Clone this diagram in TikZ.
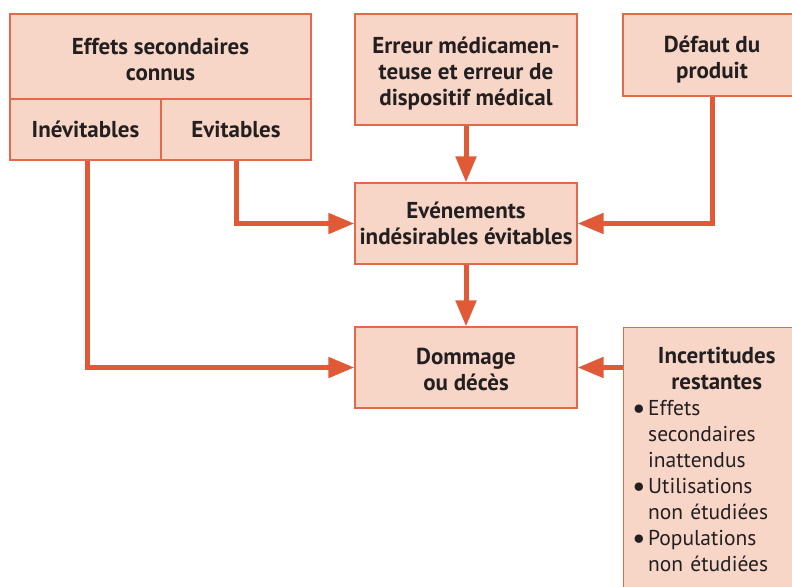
\documentclass[tikz,border=0pt]{standalone}
\usepackage{fontspec}
\setmainfont{PT Sans}
\usetikzlibrary{arrows.meta}
\definecolor{boxfill}{HTML}{F8D6C7}
\definecolor{boxline}{HTML}{E4694A}
\definecolor{flow}{HTML}{E05A38}
\definecolor{ink}{HTML}{231F20}
\newcommand{\itembullet}{\makebox[16pt][l]{\raisebox{-3pt}{\fontsize{30}{26}\selectfont•}}}
\newcommand{\itemcont}{\hspace*{16pt}}
% extra head room that lowers the text block in a box
\newcommand{\headroom}[1]{\rule{0pt}{#1}}
\begin{document}
\begin{tikzpicture}[x=1pt,y=-1pt,
  box/.style={draw=boxline, fill=boxfill, line width=1.2pt, inner sep=0pt,
    align=center, text=ink, font=\fontsize{23}{26}\selectfont\bfseries},
  flowline/.style={draw=flow, line width=5pt,
    -{Triangle[length=26pt,width=20pt]}}]
\useasboundingbox (0,0) rectangle (792,586);

% boxes
\node[box, minimum width=301pt, minimum height=85pt] (known) at (160.5,56.5) {\headroom{23pt}Effets secondaires\\connus};
\node[box, minimum width=151pt, minimum height=61pt] (inev) at (85.5,129.5) {Inévitables};
\node[box, minimum width=150pt, minimum height=61pt] (evit) at (236,129.5) {Evitables};
\node[box, minimum width=222pt, minimum height=111pt] (err) at (466,69.5) {\headroom{24.5pt}Erreur médicamen-\\teuse et erreur de\\dispositif médical};
\node[box, minimum width=178pt, minimum height=82pt] (def) at (712,55) {\headroom{26.5pt}Défaut du\\produit};
\node[box, minimum width=222pt, minimum height=81pt] (ev) at (466,223.5) {Evénements\\indésirables évitables};
\node[box, minimum width=222pt, minimum height=81pt] (dom) at (466,367.5) {\headroom{21pt}Dommage\\ou décès};
\node[box, minimum width=182pt, minimum height=280pt, anchor=north west] (inc) at (623,327) {};
\node[anchor=north west, inner sep=0pt, text width=169pt, align=left, text=ink,
  font=\fontsize{21.5}{26}\selectfont] (inctext) at (632,346.5) {%
  {\centering\fontsize{23}{26}\selectfont\bfseries Incertitudes\\restantes\par}
  \itembullet Effets\\\itemcont secondaires\\\itemcont inattendus\\
  \itembullet Utilisations\\\itemcont non étudiées\\
  \itembullet Populations\\\itemcont non étudiées};

% connectors
\draw[flowline] (err.south) -- (ev.north);
\draw[flowline] (ev.south) -- (dom.north);
\draw[flowline] (def.south) |- (ev.east);
\draw[flowline] (evit.south) |- (ev.west);
\draw[flowline] ([xshift=1.5pt]inev.south) |- (dom.west);
\draw[flowline] (inc.west |- dom.east) -- (dom.east);
\end{tikzpicture}
\end{document}
